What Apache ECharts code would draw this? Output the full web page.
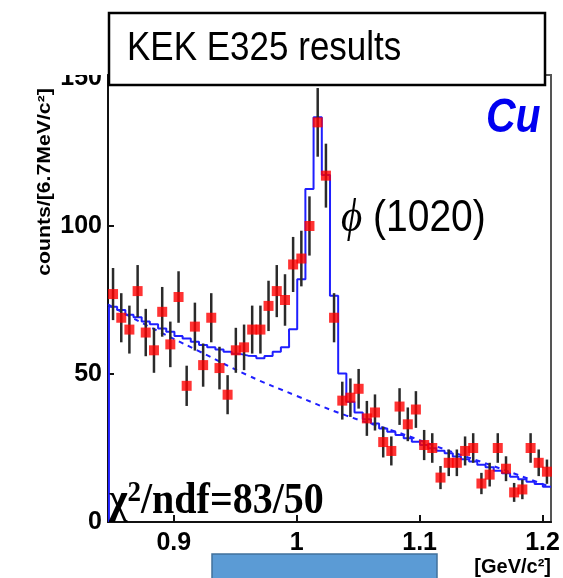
<!DOCTYPE html>
<html>
<head>
<meta charset="utf-8">
<title>KEK E325 results</title>
<script src="https://cdn.jsdelivr.net/npm/echarts@6/dist/echarts.min.js"></script>
<style>
  html, body { margin: 0; padding: 0; background: #fff; }
  #main { width: 563px; height: 578px; }
</style>
</head>
<body>
<div id="main"></div>
<script>
// centres of the 6.7 MeV/c2 mass bins [GeV/c2]
const binCenters = [
  0.8506, 0.8573, 0.8639, 0.8706, 0.8772, 0.8839, 0.8906, 0.8972, 0.9039, 0.9105,
  0.9172, 0.9239, 0.9305, 0.9372, 0.9438, 0.9505, 0.9572, 0.9638, 0.9705, 0.9771,
  0.9838, 0.9905, 0.9971, 1.0038, 1.0104, 1.0171, 1.0238, 1.0304, 1.0371, 1.0437,
  1.0504, 1.0571, 1.0637, 1.0704, 1.0770, 1.0837, 1.0904, 1.0970, 1.1037, 1.1103,
  1.1170, 1.1237, 1.1303, 1.1370, 1.1436, 1.1503, 1.1570, 1.1636, 1.1703, 1.1769,
  1.1836, 1.1903, 1.1969, 1.2036
];
const binHalf = 0.00333;

// measured counts and their error bars
const counts = [
  77, 69, 65, 78, 64, 58, 71, 60, 76, 46,
  66, 53, 69, 52, 43, 58, 59, 65, 65, 73,
  78, 75, 87, 89, 100, 135, 117, 69, 41, 42,
  45, 35, 37, 27, 24, 39, 33, 38, 26, 25,
  15, 20, 20, 24, 25, 13, 16, 25, 18, 10,
  11, 25, 20, 17
];
const errors = [
  8.8, 8.3, 8.1, 8.8, 8.0, 7.6, 8.4, 7.7, 8.7, 6.8,
  8.1, 7.3, 8.3, 7.2, 6.6, 7.6, 7.7, 8.1, 8.1, 8.5,
  8.8, 8.7, 9.3, 9.4, 10.0, 11.6, 10.8, 8.3, 6.4, 6.5,
  6.7, 5.9, 6.1, 5.2, 4.9, 6.2, 5.7, 6.2, 5.1, 5.0,
  3.9, 4.5, 4.5, 4.9, 5.0, 3.6, 4.0, 5.0, 4.2, 3.2,
  3.3, 5.0, 4.5, 4.1
];

// fitted histogram (signal + background), one value per bin
const fitValues = [
  72.7, 71.6, 70.0, 69.2, 67.7, 66.8, 65.4, 64.3, 62.8, 62.0,
  60.9, 59.8, 59.0, 58.3, 57.5, 56.8, 56.2, 56.1, 55.3, 56.1,
  57.5, 59.0, 65.1, 82.0, 112.5, 136.7, 117.2, 76.4, 50.2, 40.6,
  37.0, 34.7, 33.3, 31.6, 30.5, 29.4, 28.3, 27.1, 26.0, 24.9,
  24.1, 23.2, 22.1, 21.2, 20.4, 19.3, 18.5, 17.3, 16.5, 15.3,
  14.4, 13.6, 12.8, 11.9
];

// background-only curve (dashed)
const bgMass = [0.8465, 0.88, 0.92, 0.96, 1.00, 1.04, 1.08, 1.12, 1.16, 1.2065];
const bgValues = [73.5, 66.0, 57.8, 49.6, 42.6, 36.0, 30.6, 24.6, 18.9, 11.8];

const xTicks = [0.9, 1.0, 1.1, 1.2];
const yTicks = [0, 50, 100, 150];

const chart = echarts.init(document.getElementById('main'));

// step outline of the fit, rising from zero at the left edge
const fitStep = [[binCenters[0] - binHalf, 0]];
binCenters.forEach((c, i) => {
  fitStep.push([c - binHalf, fitValues[i]]);
  fitStep.push([c + binHalf, fitValues[i]]);
});

const blue = '#1f1fff';
const labelFont = { fontFamily: 'Liberation Sans, Arial, sans-serif', fontWeight: 'bold', fontSize: 25, color: '#000' };

const option = {
  animation: false,
  grid: {
    left: 108, right: 12, top: 75, bottom: 56,
    show: true, borderColor: '#555', borderWidth: 2, backgroundColor: 'transparent'
  },
  xAxis: {
    type: 'value',
    min: 0.8465,
    max: 1.2069,
    splitLine: { show: false },
    axisLine: { show: true, onZero: false, lineStyle: { color: '#111', width: 2 } },
    axisTick: { show: true, inside: true, length: 7, customValues: xTicks, lineStyle: { color: '#111', width: 2 } },
    axisLabel: { ...labelFont, margin: 9, customValues: xTicks }
  },
  yAxis: {
    type: 'value',
    min: 0,
    max: 151,
    splitLine: { show: false },
    axisLine: { show: true, lineStyle: { color: '#111', width: 2 } },
    axisTick: { show: true, inside: true, length: 6, customValues: yTicks, lineStyle: { color: '#111', width: 2 } },
    axisLabel: { ...labelFont, margin: 6, customValues: yTicks }
  },
  series: [
    {
      name: 'background',
      type: 'line',
      data: bgMass.map((m, i) => [m, bgValues[i]]),
      smooth: true,
      showSymbol: false,
      lineStyle: { color: blue, width: 2, type: [5, 5] },
      z: 2
    },
    {
      name: 'fit',
      type: 'line',
      data: fitStep,
      showSymbol: false,
      lineStyle: { color: blue, width: 2 },
      z: 3
    },
    {
      name: 'errors',
      type: 'custom',
      clip: true,
      data: binCenters.map((c, i) => [c, counts[i] - errors[i], counts[i] + errors[i]]),
      encode: { x: 0, y: [1, 2] },
      renderItem: (params, api) => {
        const lo = api.coord([api.value(0), api.value(1)]);
        const hi = api.coord([api.value(0), api.value(2)]);
        return {
          type: 'line',
          shape: { x1: lo[0], y1: lo[1], x2: hi[0], y2: hi[1] },
          style: { stroke: '#2a2a2a', lineWidth: 2.5 }
        };
      },
      z: 4
    },
    {
      name: 'data',
      type: 'scatter',
      data: binCenters.map((c, i) => [c, counts[i]]),
      symbol: 'rect',
      symbolSize: 10,
      itemStyle: { color: '#ff0000' },
      z: 5
    }
  ],
  graphic: [
    // white patch that hides the top of the "150" label, as in the original
    { type: 'rect', shape: { x: 55, y: 0, width: 52, height: 75 }, style: { fill: '#fff' }, z: 50 },
    {
      type: 'rect',
      shape: { x: 109, y: 13, width: 436, height: 72 },
      style: { fill: '#fff', stroke: '#000', lineWidth: 2.5 },
      z: 60
    },
    {
      type: 'text', x: 127, y: 49, scaleY: 1.15, z: 61,
      style: { text: 'KEK E325 results', font: '35px "Liberation Sans", Arial, sans-serif', fill: '#000', align: 'left', verticalAlign: 'middle' }
    },
    {
      type: 'text', x: 486, y: 119, scaleY: 1.15, z: 61,
      style: { text: 'Cu', font: 'italic bold 41px "Liberation Sans", Arial, sans-serif', fill: '#0000f0', align: 'left', verticalAlign: 'middle' }
    },
    {
      type: 'text', x: 341, y: 219, scaleY: 1.15, z: 61,
      style: {
        text: '{p|ϕ}{n| (1020)}', align: 'left', verticalAlign: 'middle',
        rich: {
          p: { fontFamily: '"Liberation Serif", "DejaVu Serif", serif', fontStyle: 'italic', fontSize: 41, fill: '#000' },
          n: { fontFamily: '"Liberation Sans", Arial, sans-serif', fontSize: 39, fill: '#000' }
        }
      }
    },
    {
      type: 'text', x: 109, y: 502, scaleY: 1.1, z: 61,
      style: {
        text: '{a|χ}{s|2}{a|/ndf=83/50}', align: 'left', verticalAlign: 'middle',
        rich: {
          a: { fontFamily: '"Liberation Serif", "Times New Roman", serif', fontWeight: 'bold', fontSize: 40, fill: '#000', lineHeight: 42 },
          s: { fontFamily: '"Liberation Serif", "Times New Roman", serif', fontWeight: 'bold', fontSize: 27, fill: '#000', verticalAlign: 'top', lineHeight: 42 }
        }
      }
    },
    {
      type: 'text', x: 45, y: 182, rotation: Math.PI / 2, scaleX: 1.18, z: 61,
      style: { text: 'counts/[6.7MeV/c²]', font: 'bold 18px "Liberation Sans", Arial, sans-serif', fill: '#000', align: 'center', verticalAlign: 'middle' }
    },
    {
      type: 'text', x: 551, y: 567, z: 61,
      style: { text: '[GeV/c²]', font: 'bold 20px "Liberation Sans", Arial, sans-serif', fill: '#000', align: 'right', verticalAlign: 'middle' }
    },
    {
      type: 'rect',
      shape: { x: 212, y: 554, width: 225, height: 30 },
      style: { fill: '#5b9bd5', stroke: '#41719c', lineWidth: 1.5 },
      z: 61
    }
  ]
};

chart.setOption(option);
</script>
</body>
</html>
